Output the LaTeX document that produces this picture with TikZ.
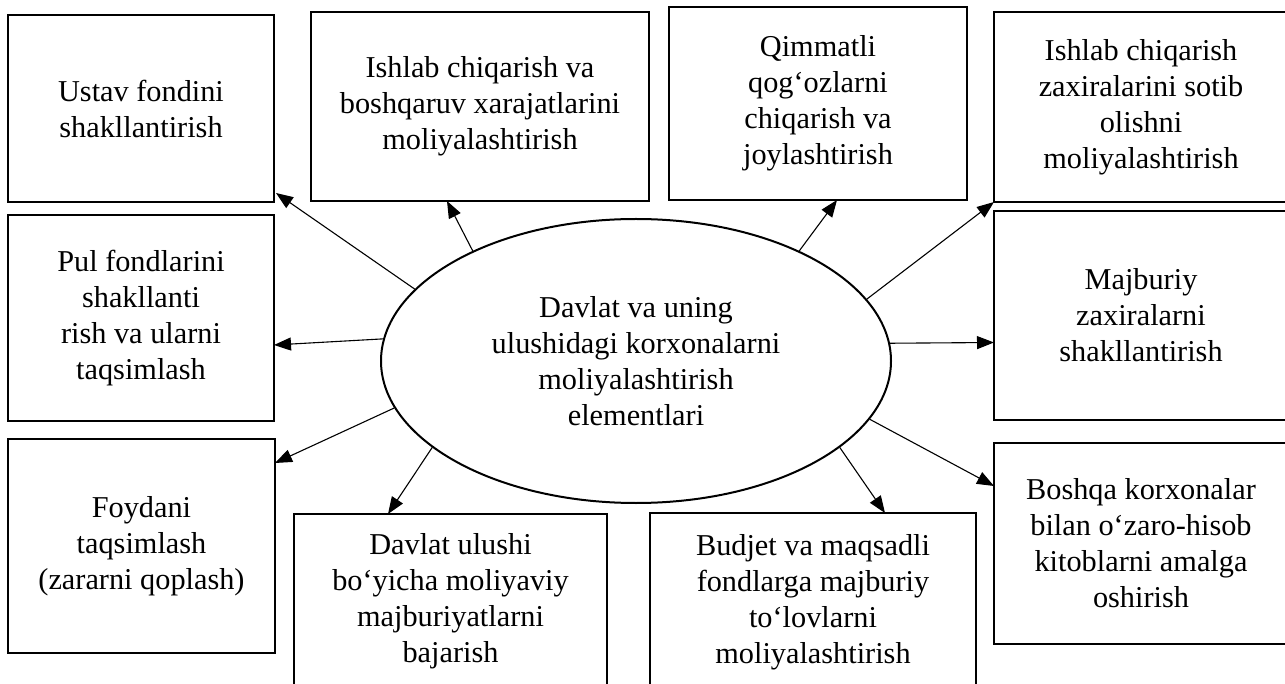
\documentclass[tikz,border=0pt]{standalone}
\usepackage{fontspec}
\setmainfont{Liberation Serif}
\usetikzlibrary{shapes.geometric,arrows.meta}
\begin{document}
\begin{tikzpicture}[x=1pt,y=-1pt,
  txt/.style={align=center, font=\fontsize{30.3pt}{36pt}\selectfont},
  box/.style={txt, draw, line width=2.4pt, rectangle, anchor=north west, inner sep=0pt, outer sep=0pt},
  arr/.style={line width=1.1pt, -{Triangle[length=17pt,width=13pt]}}]
\useasboundingbox (0,0) rectangle (1285,684);
\clip (0,0) rectangle (1285,684);
% boxes
\node[box, minimum width=266pt, minimum height=187pt] (b1) at (8,15) {Ustav fondini\\shakllantirish};
\node[box, minimum width=338pt, minimum height=189pt] (b2) at (311,12) {Ishlab chiqarish va\\boshqaruv xarajatlarini\\moliyalashtirish};
\node[box, minimum width=298pt, minimum height=193pt] (b3) at (669,7) {Qimmatli\\qog‘ozlarni\\chiqarish va\\joylashtirish};
\node[box, minimum width=294pt, minimum height=190pt] (b4) at (994,12) {Ishlab chiqarish\\zaxiralarini sotib\\olishni\\moliyalashtirish};
\node[box, minimum width=294pt, minimum height=209pt] (b5) at (994,211) {Majburiy\\zaxiralarni\\shakllantirish};
\node[box, minimum width=266pt, minimum height=206pt] (b6) at (8,215) {Pul fondlarini\\shakllanti\\rish va ularni\\taqsimlash};
\node[box, minimum width=267pt, minimum height=214pt] (b7) at (8,439) {Foydani\\taqsimlash\\(zararni qoplash)};
\node[box, minimum width=313pt, minimum height=175pt] (b8) at (294,514) {Davlat ulushi\\bo‘yicha moliyaviy\\majburiyatlarni\\bajarish};
\node[box, minimum width=326pt, minimum height=178pt] (b9) at (650,513) {Budjet va maqsadli\\fondlarga majburiy\\to‘lovlarni\\moliyalashtirish};
\node[box, minimum width=294pt, minimum height=201pt] (b10) at (994,443) {Boshqa korxonalar\\bilan o‘zaro-hisob\\kitoblarni amalga\\oshirish};
% centre ellipse
\node[txt, draw, ellipse, line width=2pt, minimum width=510pt, minimum height=284pt, inner sep=0pt] (e) at (636,361) {Davlat va uning\\ulushidagi korxonalarni\\moliyalashtirish\\elementlari};
% connectors
\draw[arr] (e.162.7) -- ([xshift=2pt,yshift=9pt]b1.south east);
\draw[arr] (e.146.6) -- ([xshift=136pt]b2.south west);
\draw[arr] (e.34.6) -- ([xshift=168pt]b3.south west);
\draw[arr] (e.15) -- (b4.south west);
\draw[arr] (e.4.8) -- ([yshift=-27pt]b5.west);
\draw[arr] (e.175) -- ([yshift=-27pt]b6.east);
\draw[arr] (e.-169.1) -- ([yshift=-24pt]b7.north east);
\draw[arr] (e.-157.5) -- ([xshift=94pt]b8.north west);
\draw[arr] (e.-23.6) -- ([xshift=235pt]b9.north west);
\draw[arr] (e.-14.3) -- ([yshift=-43pt]b10.north west);
\end{tikzpicture}
\end{document}
